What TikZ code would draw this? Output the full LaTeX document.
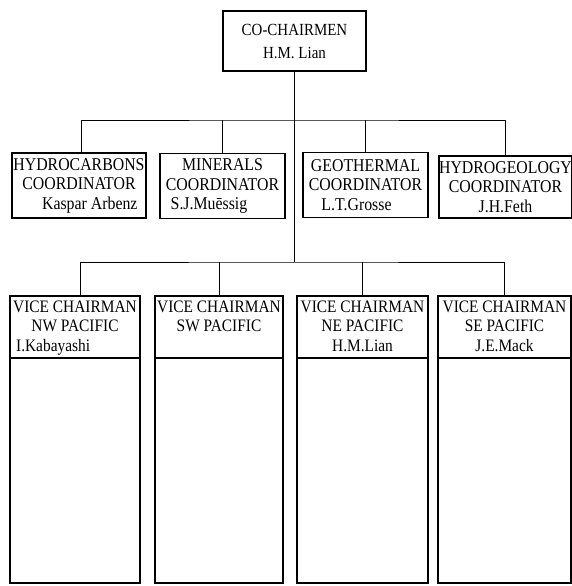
\documentclass[tikz,border=0pt]{standalone}
\usepackage{fontspec}
\setmainfont{Liberation Serif}[FakeStretch=0.88]
\usetikzlibrary{positioning}
\begin{document}
\begin{tikzpicture}[x=1pt, y=-1pt, line width=1pt,
  box/.style={draw, line width=1.3pt, inner sep=0pt, outer sep=0pt, align=center, font=\fontsize{18}{19.5}\selectfont},
  coord box/.style={box, minimum width=128, minimum height=65},
  head box/.style={draw, line width=1.3pt, outer sep=0pt, minimum width=130, minimum height=62},
  body box/.style={draw, line width=1.3pt, outer sep=0pt, minimum width=130, minimum height=225},
  head text/.style={inner sep=0pt, align=center, font=\fontsize{17.5}{19.5}\selectfont}]
\useasboundingbox (0,0) rectangle (572,586);
% top
\node [box, minimum width=143, minimum height=60, font=\fontsize{17}{23}\selectfont] (chair) at (294.5,41) {CO-CHAIRMEN\\H.M. Lian};
% coordinators
\node [coord box, minimum width=134] (hydrocarbons) at (79,185.5) {HYDROCARBONS\\COORDINATOR\\\hspace*{1.2em}Kaspar Arbenz};
\node [coord box, minimum width=125] (minerals) at (222.5,186) {MINERALS\\COORDINATOR\\S.J.Muēssig\hspace*{1.5em}};
\node [coord box, minimum width=125] (geothermal) at (365.5,185) {GEOTHERMAL\\COORDINATOR\\L.T.Grosse\hspace*{1em}};
\node [coord box, minimum width=131, minimum height=62] (hydrogeology) at (505.5,187) {HYDROGEOLOGY\\COORDINATOR\\J.H.Feth};
% vice chairmen
\node [head box] (nwhead) at (75,327) {};
\node [body box, below=0pt of nwhead] (nwbody) {};
\node [head text, below=4pt of nwhead.north] (nwtext) {VICE CHAIRMAN\\NW PACIFIC\\I.Kabayashi\hspace*{2.5em}};
\node [head box, minimum width=128] (swhead) at (219,327) {};
\node [body box, minimum width=128, below=0pt of swhead] (swbody) {};
\node [head text, below=4pt of swhead.north] (swtext) {VICE CHAIRMAN\\SW PACIFIC};
\node [head box, minimum width=131] (nehead) at (362.5,327) {};
\node [body box, minimum width=131, below=0pt of nehead] (nebody) {};
\node [head text, below=4pt of nehead.north] (netext) {VICE CHAIRMAN\\NE PACIFIC\\H.M.Lian};
\node [head box, minimum width=133] (sehead) at (504.5,327) {};
\node [body box, minimum width=133, below=0pt of sehead] (sebody) {};
\node [head text, below=4pt of sehead.north] (setext) {VICE CHAIRMAN\\SE PACIFIC\\J.E.Mack};
% connectors
\coordinate (bus1) at (294.5,120);
\coordinate (bus2) at (294.5,262);
\draw (chair.south) -- (bus2);
\draw (hydrocarbons.north -| 81,0) |- (bus1) -| (hydrogeology.north);
\draw (minerals.north) -- (minerals.north |- bus1);
\draw (geothermal.north) -- (geothermal.north |- bus1);
\draw (nwhead.north -| 80,0) |- (bus2) -| (sehead.north);
\draw (swhead.north) -- (swhead.north |- bus2);
\draw (nehead.north) -- (nehead.north |- bus2);
\end{tikzpicture}
\end{document}
